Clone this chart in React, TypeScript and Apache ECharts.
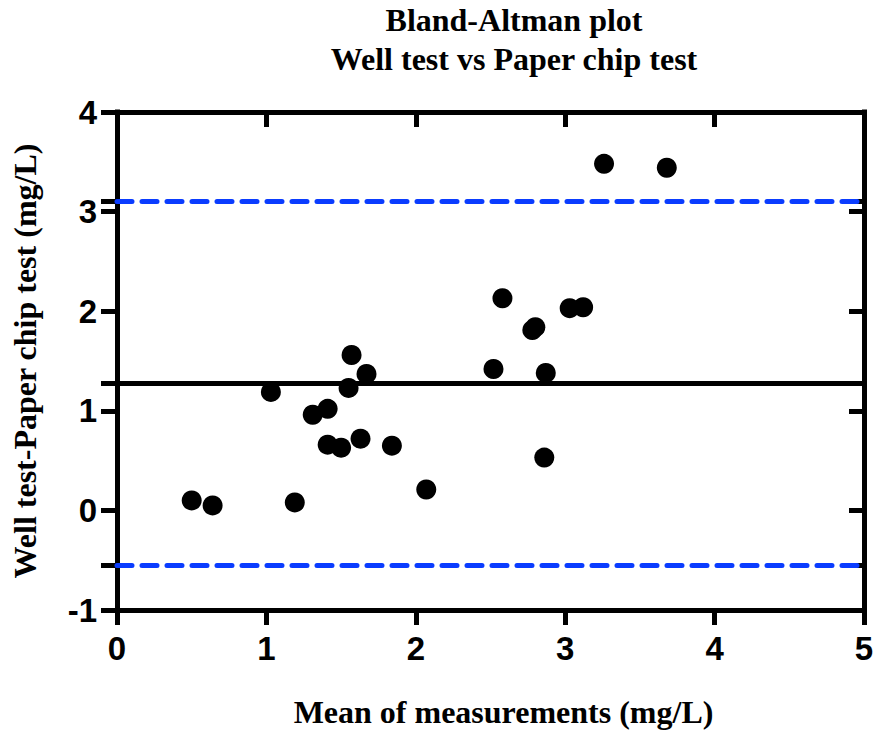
import React, { useEffect, useRef } from "react";
import * as echarts from "echarts";

const meanValues = [0.50, 0.64, 1.03, 1.19, 1.31, 1.41, 1.41, 1.50, 1.55, 1.57, 1.63, 1.67, 1.84, 2.07, 2.52, 2.58, 2.78, 2.80, 2.87, 2.86, 3.03, 3.12, 3.26, 3.68];
const diffValues = [0.10, 0.05, 1.19, 0.08, 0.96, 1.02, 0.66, 0.63, 1.23, 1.56, 0.72, 1.37, 0.65, 0.21, 1.42, 2.13, 1.81, 1.84, 1.38, 0.53, 2.03, 2.04, 3.48, 3.44];
const bias = 1.275;
const upperLoA = 3.1;
const lowerLoA = -0.55;
const xMin = 0, xMax = 5, yMin = -1, yMax = 4;
const yTickValues = [-1, 0, 1, 2, 3, 4];
const titleText = "Bland-Altman plot\nWell test vs Paper chip test";
const xName = "Mean of measurements (mg/L)";
const yName = "Well test-Paper chip test (mg/L)";

const SERIF = "'Liberation Serif', 'Times New Roman', serif";
const SANS = "'Liberation Sans', Arial, sans-serif";

export default function App() {
  const ref = useRef<HTMLDivElement>(null);
  useEffect(() => {
    document.body.style.margin = "0";
    const chart = echarts.init(ref.current!, null, { renderer: "svg" });
    const axisLine = { show: true, onZero: false, lineStyle: { color: "#000", width: 5, cap: "square" } };
    const tickStyle = { color: "#000", width: 5 };
    const extraTicks = [...yTickValues, lowerLoA, bias, upperLoA];
    chart.setOption({
      animation: false,
      backgroundColor: "#fff",
      title: {
        text: titleText,
        left: 509,
        top: -5,
        textAlign: "center",
        textStyle: { fontFamily: SERIF, fontWeight: "bold", fontSize: 32, lineHeight: 39, color: "#000" },
      },
      grid: { left: 117, right: 14, top: 112, bottom: 128, containLabel: false },
      xAxis: [
        {
          type: "value", min: xMin, max: xMax, interval: 1, position: "bottom",
          name: xName, nameLocation: "middle", nameGap: 86,
          nameTextStyle: { fontFamily: SERIF, fontWeight: "bold", fontSize: 32, color: "#000", padding: [0, 0, 0, 26] },
          axisLine, axisTick: { show: true, inside: false, length: 15, lineStyle: tickStyle },
          axisLabel: { margin: 22, fontFamily: SANS, fontWeight: "bold", fontSize: 33, color: "#000" },
          splitLine: { show: false },
        },
        {
          type: "value", min: xMin, max: xMax, interval: 1, position: "top",
          axisLine, axisTick: { show: true, inside: true, length: 15, lineStyle: tickStyle },
          axisLabel: { show: false }, splitLine: { show: false },
        },
      ],
      yAxis: [
        {
          type: "value", min: yMin, max: yMax, interval: 1, position: "left",
          name: yName, nameLocation: "middle", nameGap: 76,
          nameTextStyle: { fontFamily: SERIF, fontWeight: "bold", fontSize: 32, color: "#000" },
          axisLine,
          axisTick: { show: true, inside: false, length: 16, lineStyle: tickStyle, customValues: extraTicks },
          axisLabel: { margin: 20, fontFamily: SANS, fontWeight: "bold", fontSize: 33, color: "#000", customValues: yTickValues },
          splitLine: { show: false },
        },
        {
          type: "value", min: yMin, max: yMax, interval: 1, position: "right",
          axisLine,
          axisTick: { show: true, inside: true, length: 15, lineStyle: tickStyle, customValues: extraTicks },
          axisLabel: { show: false }, splitLine: { show: false },
        },
      ],
      series: [
        {
          type: "scatter",
          xAxisIndex: 0, yAxisIndex: 0,
          data: meanValues.map((x, i) => [x, diffValues[i]]),
          symbol: "circle", symbolSize: 20,
          itemStyle: { color: "#000", opacity: 1 },
          silent: true,
          markLine: {
            silent: true, symbol: "none", label: { show: false },
            data: [
              [
                { coord: [xMin, upperLoA], lineStyle: { color: "#0a3cff", width: 5, type: [15, 10], cap: "round" } },
                { coord: [xMax, upperLoA] },
              ],
              [
                { coord: [xMin, lowerLoA], lineStyle: { color: "#0a3cff", width: 5, type: [15, 10], cap: "round" } },
                { coord: [xMax, lowerLoA] },
              ],
              [
                { coord: [xMin, bias], lineStyle: { color: "#000", width: 5, type: "solid" } },
                { coord: [xMax, bias] },
              ],
            ],
          },
        },
      ],
    });
    return () => chart.dispose();
  }, []);
  return <div ref={ref} style={{ width: 878, height: 738 }} />;
}
